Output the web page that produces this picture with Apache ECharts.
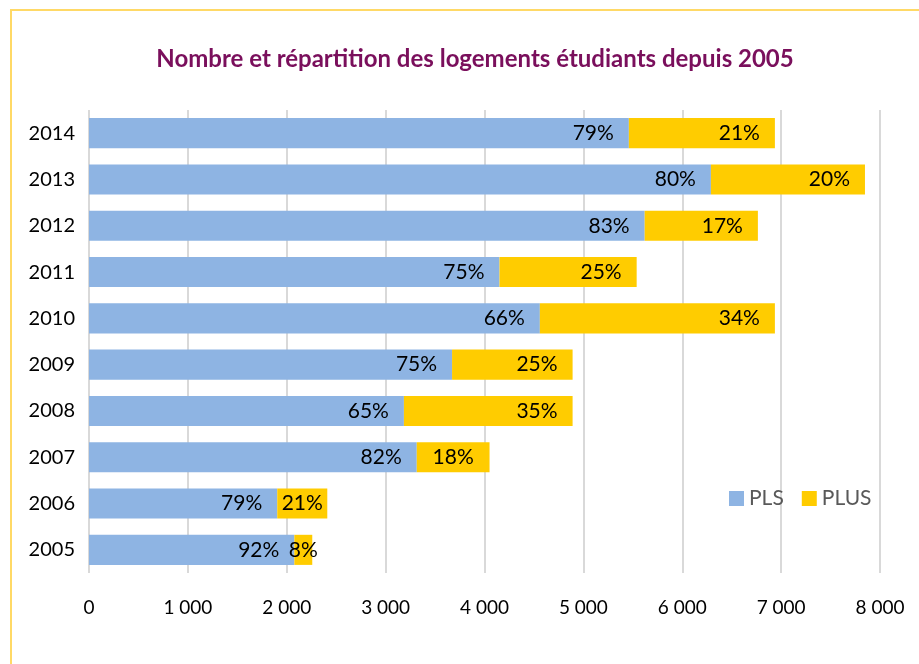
<!DOCTYPE html>
<html>
<head>
<meta charset="utf-8">
<script src="https://cdn.jsdelivr.net/npm/echarts@6/dist/echarts.min.js"></script>
<style>
  html, body { margin: 0; padding: 0; background: #fff; }
  #chart { width: 919px; height: 664px; }
</style>
</head>
<body>
<div id="chart"></div>
<script>
const years = ["2005", "2006", "2007", "2008", "2009", "2010", "2011", "2012", "2013", "2014"];
const plsValues = [2077, 1904, 3315, 3185, 3672, 4560, 4152, 5620, 6290, 5460];
const plusValues = [181, 506, 736, 1706, 1219, 2377, 1387, 1145, 1558, 1477];
const plsPct = ["92%", "79%", "82%", "65%", "75%", "66%", "75%", "83%", "80%", "79%"];
const plusPct = ["8%", "21%", "18%", "35%", "25%", "34%", "25%", "17%", "20%", "21%"];
const xTicks = [0, 1000, 2000, 3000, 4000, 5000, 6000, 7000, 8000];

const font = "Lato, 'Open Sans', sans-serif";

// small segments get their label centred, like Excel does
function withLabels(values, pcts) {
  return values.map((v, i) => ({
    value: v,
    label: {
      formatter: pcts[i],
      position: v < 800 ? "inside" : "insideRight",
    },
  }));
}

const myChart = echarts.init(document.getElementById("chart"));

const option = {
  animation: false,
  textStyle: { fontFamily: font },
  title: {
    text: "Nombre et répartition des logements étudiants depuis 2005",
    left: 470,
    textAlign: "center",
    top: 42,
    textStyle: { color: "#7a0f5c", fontWeight: "bold", fontSize: 24, fontFamily: font },
  },
  graphic: [
    {
      type: "rect",
      shape: { x: 11, y: 10, width: 1000, height: 1000 },
      style: { fill: "none", stroke: "#ffd966", lineWidth: 2 },
      silent: true,
    },
  ],
  legend: {
    left: 724,
    top: 483,
    itemWidth: 15,
    itemHeight: 15,
    itemGap: 18,
    icon: "rect",
    textStyle: { color: "#595959", fontSize: 21, fontFamily: font },
    data: ["PLS", "PLUS"],
  },
  grid: { left: 89, right: 39, top: 110, bottom: 91, containLabel: false },
  xAxis: {
    type: "value",
    min: xTicks[0],
    max: xTicks[xTicks.length - 1],
    interval: 1000,
    axisLine: { show: false },
    axisTick: { show: false },
    splitLine: { lineStyle: { color: "#d9d9d9", width: 2 } },
    axisLabel: {
      color: "#000",
      fontSize: 19,
      margin: 25,
      formatter: (v) => String(v).replace(/\B(?=(\d{3})+(?!\d))/g, " "),
    },
  },
  yAxis: {
    type: "category",
    data: years,
    axisLine: { show: false },
    axisTick: { show: false },
    axisLabel: { color: "#000", fontSize: 20, margin: 14 },
  },
  series: [
    {
      name: "PLS",
      type: "bar",
      stack: "total",
      barWidth: "65%",
      itemStyle: { color: "#8eb4e3" },
      label: { show: true, color: "#000", fontSize: 21, distance: 15 },
      data: withLabels(plsValues, plsPct),
    },
    {
      name: "PLUS",
      type: "bar",
      stack: "total",
      barWidth: "65%",
      itemStyle: { color: "#ffcc00" },
      label: { show: true, color: "#000", fontSize: 21, distance: 15 },
      data: withLabels(plusValues, plusPct),
    },
  ],
};

myChart.setOption(option);
</script>
</body>
</html>
